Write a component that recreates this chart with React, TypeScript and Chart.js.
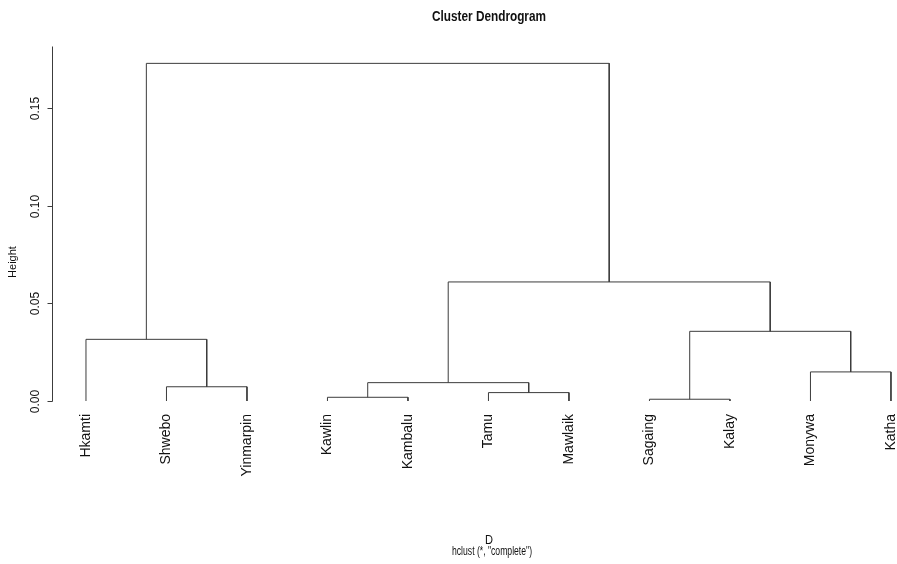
import React, { useEffect, useRef } from "react";
import { Chart, registerables } from "chart.js";

Chart.register(...registerables);

// Leaves in display order (x = 1..11)
const leafLabels = [
  "Hkamti", "Shwebo", "Yinmarpin", "Kawlin", "Kambalu", "Tamu",
  "Mawlaik", "Sagaing", "Kalay", "Monywa", "Katha",
];
// R-style merge steps: negative = leaf number (1-based), positive = earlier merge step
const mergeLeft = [-8, -4, -6, -2, 2, -10, -1, 1, 5, 7];
const mergeRight = [-9, -5, -7, -3, 3, -11, 4, 6, 8, 9];
const mergeHeights = [0.0009, 0.0019, 0.0043, 0.0073, 0.0094, 0.0149, 0.0316, 0.0357, 0.061, 0.173];
const yTicks = [0, 0.05, 0.1, 0.15];
const yTickLabels = ["0.00", "0.05", "0.10", "0.15"];

const titleText = "Cluster Dendrogram";
const xLabel = "D";
const subLabel = 'hclust (*, "complete")';
const yLabel = "Height";

const FONT = '"Liberation Sans", Arial, sans-serif';
const LINE = "#3c3c3c";

function buildSegments() {
  const pos: number[] = [];
  const hgt: number[] = [];
  const nodePos = (n: number) => (n < 0 ? -n : pos[n - 1]);
  const nodeH = (n: number) => (n < 0 ? 0 : hgt[n - 1]);
  const segs: { x: number; y: number }[][] = [];
  for (let i = 0; i < mergeHeights.length; i++) {
    const l = mergeLeft[i];
    const r = mergeRight[i];
    const xl = nodePos(l);
    const xr = nodePos(r);
    const h = mergeHeights[i];
    segs.push([
      { x: xl, y: nodeH(l) },
      { x: xl, y: h },
      { x: xr, y: h },
      { x: xr, y: nodeH(r) },
    ]);
    pos.push((xl + xr) / 2);
    hgt.push(h);
  }
  return segs;
}

function drawScaledText(
  ctx: CanvasRenderingContext2D,
  text: string,
  cx: number,
  cy: number,
  font: string,
  targetWidth: number
) {
  ctx.save();
  ctx.font = font;
  const w = ctx.measureText(text).width;
  ctx.translate(cx, cy);
  ctx.scale(targetWidth / w, 1);
  ctx.textAlign = "center";
  ctx.textBaseline = "middle";
  ctx.fillText(text, 0, 0);
  ctx.restore();
}

const decorPlugin = {
  id: "dendroDecor",
  afterDraw(chart: any) {
    const ctx: CanvasRenderingContext2D = chart.ctx;
    const xs = chart.scales.x;
    const ys = chart.scales.y;
    const area = chart.chartArea;
    ctx.save();
    ctx.fillStyle = "#111";
    ctx.strokeStyle = LINE;
    ctx.lineWidth = 1;

    // y axis line
    const axX = Math.round(area.left) + 0.5;
    ctx.beginPath();
    ctx.moveTo(axX, Math.round(ys.getPixelForValue(0)) + 0.5);
    ctx.lineTo(axX, Math.round(area.top) + 0.5);
    ctx.stroke();

    // ticks + labels
    yTicks.forEach((v, i) => {
      const py = Math.round(ys.getPixelForValue(v)) + 0.5;
      ctx.beginPath();
      ctx.moveTo(axX - 5, py);
      ctx.lineTo(axX, py);
      ctx.stroke();
      ctx.save();
      ctx.translate(36, py);
      ctx.rotate(-Math.PI / 2);
      ctx.font = `12px ${FONT}`;
      ctx.textAlign = "center";
      ctx.textBaseline = "middle";
      ctx.fillText(yTickLabels[i], 0, 0);
      ctx.restore();
    });

    // y label
    ctx.save();
    ctx.translate(13, 262);
    ctx.rotate(-Math.PI / 2);
    ctx.font = `11px ${FONT}`;
    ctx.textAlign = "center";
    ctx.textBaseline = "middle";
    ctx.fillText(yLabel, 0, 0);
    ctx.restore();

    // leaf labels
    leafLabels.forEach((lab, i) => {
      const px = xs.getPixelForValue(i + 1);
      ctx.save();
      ctx.translate(px, ys.getPixelForValue(0) + 13);
      ctx.rotate(-Math.PI / 2);
      ctx.font = `14px ${FONT}`;
      ctx.textAlign = "right";
      ctx.textBaseline = "middle";
      ctx.fillText(lab, 0, 0);
      ctx.restore();
    });

    // title and x labels
    drawScaledText(ctx, titleText, 489, 17, `bold 15px ${FONT}`, 114);
    drawScaledText(ctx, xLabel, 489, 541, `12px ${FONT}`, 8);
    drawScaledText(ctx, subLabel, 492, 552, `12px ${FONT}`, 80);
    ctx.restore();
  },
};

export default function App() {
  const ref = useRef<HTMLCanvasElement | null>(null);
  useEffect(() => {
    document.body.style.margin = "0";
    const canvas = ref.current;
    if (!canvas) return;
    const segs = buildSegments();
    const chart = new Chart(canvas, {
      type: "scatter",
      data: {
        datasets: segs.map((s) => ({
          data: s,
          showLine: true,
          borderColor: LINE,
          borderWidth: 1,
          pointRadius: 0,
          pointHoverRadius: 0,
          fill: false,
          tension: 0,
        })),
      },
      options: {
        responsive: false,
        animation: false,
        devicePixelRatio: 1,
        layout: { padding: { left: 52, right: 0, top: 46, bottom: 163 } },
        plugins: {
          legend: { display: false },
          tooltip: { enabled: false },
          title: { display: false },
        },
        scales: {
          x: { type: "linear", min: 0.578, max: 11.075, display: false },
          y: { type: "linear", min: 0, max: 0.1819, display: false },
        },
      },
      plugins: [decorPlugin],
    });
    return () => chart.destroy();
  }, []);
  return (
    <div style={{ position: "absolute", left: 0, top: 0, width: 897, height: 564, background: "#fff" }}>
      <canvas ref={ref} width={897} height={564} style={{ width: 897, height: 564, display: "block" }} />
    </div>
  );
}
